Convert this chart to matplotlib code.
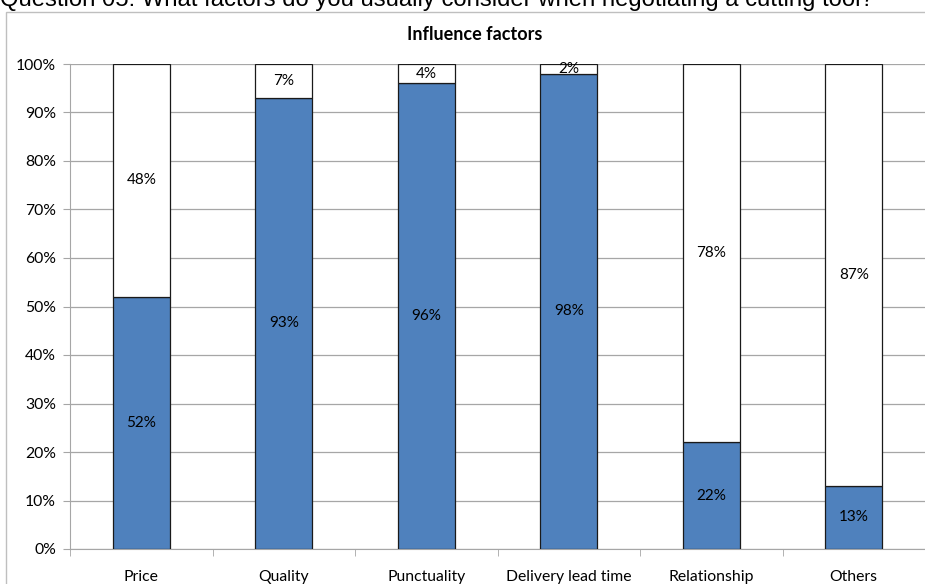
import matplotlib
matplotlib.use("Agg")
from matplotlib import pyplot as plt
from matplotlib.patches import Rectangle
from matplotlib.ticker import FixedLocator, FuncFormatter
import numpy as np

factors = ["Price", "Quality", "Punctuality", "Delivery lead time", "Relationship", "Others"]
considered = [52, 93, 96, 98, 22, 13]
not_considered = [48, 7, 4, 2, 78, 87]

blue = "#4F81BD"
grid_gray = "#A6A6A6"
font = ["Lato", "DejaVu Sans"]

fig = plt.figure(figsize=(9.25, 5.84), dpi=100)

# question line above the chart frame
fig.text(0.0, 1 - 6 / 584, "Question 05: What factors do you usually consider when negotiating a cutting tool?",
         fontsize=17.2, family=["Liberation Sans", "DejaVu Sans"], va="baseline", ha="left")

# outer chart frame
fig.patches.append(Rectangle((6 / 925, -0.01), 1.0, 1 - 12 / 584 + 0.01, transform=fig.transFigure,
                             fill=False, edgecolor="#BFBFBF", lw=1.0))

ax = fig.add_axes([70 / 925, 35 / 584, 1 - 70 / 925, 485 / 584])
x = np.arange(len(factors))
width = 0.4

ax.bar(x, considered, width, color=blue, edgecolor="#1a1a1a", lw=0.9, zorder=3)
ax.bar(x, not_considered, width, bottom=considered, color="white", edgecolor="#1a1a1a", lw=0.9, zorder=3)

for xi, c, n in zip(x, considered, not_considered):
    ax.text(xi, c / 2, f"{c}%", ha="center", va="center", fontsize=11, family=font, zorder=4)
    ax.text(xi, c + n / 2, f"{n}%", ha="center", va="center", fontsize=11, family=font, zorder=4)

ax.set_xlim(-0.5, len(factors) - 0.5)
ax.set_ylim(0, 100)
ax.set_yticks(np.arange(0, 101, 10))
ax.yaxis.set_major_formatter(FuncFormatter(lambda v, p: f"{v:.0f}%"))
ax.yaxis.grid(True, color=grid_gray, lw=0.9, zorder=0)

ax.set_xticks(x)
ax.set_xticklabels(factors)
ax.xaxis.set_minor_locator(FixedLocator(np.arange(-0.5, len(factors), 1.0)))
ax.tick_params(axis="x", which="major", length=0, pad=15)
ax.tick_params(axis="x", which="minor", length=5, color=grid_gray)
ax.tick_params(axis="y", length=5, color=grid_gray, pad=5)
for lbl in ax.get_xticklabels() + ax.get_yticklabels():
    lbl.set_family(font)
    lbl.set_fontsize(11.3)

for side in ["top", "right"]:
    ax.spines[side].set_visible(False)
for side in ["left", "bottom"]:
    ax.spines[side].set_color(grid_gray)

fig.text(475 / 925, 1 - 34 / 584, "Influence factors", ha="center", va="center",
         fontsize=13, fontweight="bold", family=font)

plt.savefig("out.png", dpi=100)
